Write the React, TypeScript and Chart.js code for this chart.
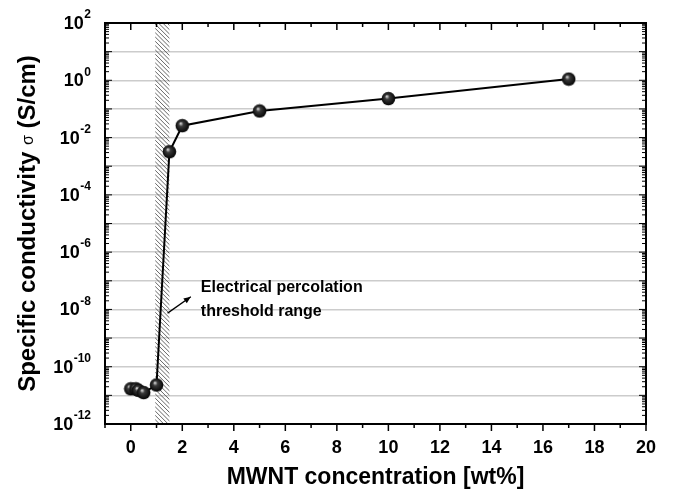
import React, { useEffect, useRef } from "react";
import { Chart, registerables } from "chart.js";
Chart.register(...registerables);

// ---- data ----
const concentration = [0, 0.2, 0.3, 0.5, 1, 1.5, 2, 5, 10, 17];
const conductivity = [1.7e-11, 1.7e-11, 1.5e-11, 1.25e-11, 2.3e-11, 3.2e-3, 2.6e-2, 8.5e-2, 2.3e-1, 1.1];
const xTickValues = [-1, 0, 1, 2, 3, 4, 5, 6, 7, 8, 9, 10, 11, 12, 13, 14, 15, 16, 17, 18, 19, 20];
const yExponents = [-12, -11, -10, -9, -8, -7, -6, -5, -4, -3, -2, -1, 0, 1, 2];
const yLabelExponents = [-12, -10, -8, -6, -4, -2, 0, 2];
const percolationBand = [0.95, 1.5];
const annotationLines = ["Electrical percolation", "threshold range"];
const annotationTextPos = { x: 2.72, y: -7.25 };
const arrowFrom = { x: 1.43, y: -8.13 };
const arrowTo = { x: 2.33, y: -7.56 };
const yTitleParts = ["Specific conductivity ", "\u03C3", " (S/cm)"];
const xTitle = "MWNT concentration [wt%]";

const FONT = "'Liberation Sans', Arial, sans-serif";

function makeSphere(): HTMLCanvasElement {
  const s = document.createElement("canvas");
  s.width = 15;
  s.height = 15;
  const c = s.getContext("2d")!;
  const g = c.createRadialGradient(5.8, 5.2, 0.3, 7.5, 7.5, 7.2);
  g.addColorStop(0, "#d8d8d8");
  g.addColorStop(0.3, "#3a3a3a");
  g.addColorStop(1, "#000000");
  c.beginPath();
  c.arc(7.5, 7.5, 6.8, 0, Math.PI * 2);
  c.fillStyle = g;
  c.fill();
  return s;
}

const decorPlugin = {
  id: "decor",
  beforeDatasetsDraw(chart: any) {
    const { ctx, chartArea } = chart;
    const xs = chart.scales.x;
    const x0 = xs.getPixelForValue(percolationBand[0]);
    const x1 = xs.getPixelForValue(percolationBand[1]);
    const top = chartArea.top;
    const bottom = chartArea.bottom;
    ctx.save();
    ctx.beginPath();
    ctx.rect(x0, top, x1 - x0, bottom - top);
    ctx.clip();
    ctx.strokeStyle = "#555";
    ctx.lineWidth = 0.9;
    const H = bottom - top;
    ctx.beginPath();
    for (let i = x0 - H; i < x1 + 2; i += 4.3) {
      ctx.moveTo(i, top);
      ctx.lineTo(i + H, bottom);
    }
    ctx.stroke();
    ctx.restore();
  },
  afterDraw(chart: any) {
    const { ctx, chartArea } = chart;
    const xs = chart.scales.x;
    const ys = chart.scales.y;
    const { left, right, top, bottom } = chartArea;
    ctx.save();
    ctx.strokeStyle = "#000";
    // y ticks (inside, both sides)
    ctx.lineWidth = 1;
    ctx.beginPath();
    for (let i = 0; i < yExponents.length; i++) {
      const e = yExponents[i];
      const y = ys.getPixelForValue(Math.pow(10, e));
      ctx.moveTo(left, y); ctx.lineTo(left + 7, y);
      ctx.moveTo(right, y); ctx.lineTo(right - 7, y);
      if (e < 2) {
        for (let k = 2; k <= 9; k++) {
          const ym = ys.getPixelForValue(k * Math.pow(10, e));
          ctx.moveTo(left, ym); ctx.lineTo(left + 4, ym);
          ctx.moveTo(right, ym); ctx.lineTo(right - 4, ym);
        }
      }
    }
    ctx.stroke();
    // x ticks: top inside, bottom outside
    ctx.lineWidth = 1.5;
    ctx.beginPath();
    for (const v of xTickValues) {
      const x = xs.getPixelForValue(v);
      const len = v % 2 === 0 ? 7 : 4;
      ctx.moveTo(x, top); ctx.lineTo(x, top + len);
      ctx.moveTo(x, bottom); ctx.lineTo(x, bottom + len);
    }
    ctx.stroke();
    // frame
    ctx.lineWidth = 2;
    ctx.strokeRect(left, top, right - left, bottom - top);

    // y tick labels: 10 with superscript exponent
    ctx.fillStyle = "#000";
    ctx.textBaseline = "middle";
    for (const e of yLabelExponents) {
      const y = ys.getPixelForValue(Math.pow(10, e));
      const exp = String(e);
      ctx.font = `bold 12px ${FONT}`;
      const ew = ctx.measureText(exp).width;
      ctx.textAlign = "right";
      const xr = left - 14;
      ctx.fillText(exp, xr, y - 8);
      ctx.font = `bold 18px ${FONT}`;
      ctx.fillText("10", xr - ew - 0.5, y + 1);
    }

    // y title with mixed fonts
    const fBig = `bold 24px ${FONT}`;
    const fSig = `16px ${FONT}`;
    const widths = yTitleParts.map((p, i) => {
      ctx.font = i === 1 ? fSig : fBig;
      return ctx.measureText(p).width;
    });
    const total = widths.reduce((a, b) => a + b, 0);
    const cy = (top + bottom) / 2;
    ctx.translate(28, cy);
    ctx.rotate(-Math.PI / 2);
    ctx.textAlign = "left";
    ctx.textBaseline = "middle";
    let cx = -total / 2;
    yTitleParts.forEach((p, i) => {
      ctx.font = i === 1 ? fSig : fBig;
      ctx.fillText(p, cx, i === 1 ? 1 : 0);
      cx += widths[i];
    });
    ctx.setTransform(1, 0, 0, 1, 0, 0);

    // annotation arrow
    const ax0 = xs.getPixelForValue(arrowFrom.x);
    const ay0 = ys.getPixelForValue(Math.pow(10, arrowFrom.y));
    const ax1 = xs.getPixelForValue(arrowTo.x);
    const ay1 = ys.getPixelForValue(Math.pow(10, arrowTo.y));
    ctx.lineWidth = 1.3;
    ctx.beginPath();
    ctx.moveTo(ax0, ay0);
    ctx.lineTo(ax1, ay1);
    ctx.stroke();
    const ang = Math.atan2(ay1 - ay0, ax1 - ax0);
    const hl = 7, hw = 3;
    ctx.beginPath();
    ctx.moveTo(ax1, ay1);
    ctx.lineTo(ax1 - hl * Math.cos(ang) + hw * Math.sin(ang), ay1 - hl * Math.sin(ang) - hw * Math.cos(ang));
    ctx.lineTo(ax1 - hl * Math.cos(ang) - hw * Math.sin(ang), ay1 - hl * Math.sin(ang) + hw * Math.cos(ang));
    ctx.closePath();
    ctx.fill();

    // annotation text
    const tx = xs.getPixelForValue(annotationTextPos.x);
    const ty = ys.getPixelForValue(Math.pow(10, annotationTextPos.y));
    ctx.font = `bold 16px ${FONT}`;
    ctx.textAlign = "left";
    ctx.textBaseline = "middle";
    annotationLines.forEach((line, i) => ctx.fillText(line, tx, ty + i * 24));
    ctx.restore();
  },
};

export default function App() {
  const ref = useRef<HTMLCanvasElement>(null);
  useEffect(() => {
    document.body.style.margin = "0";
    const sphere = makeSphere();
    const chart = new Chart(ref.current!, {
      type: "line",
      data: {
        datasets: [
          {
            data: concentration.map((x, i) => ({ x, y: conductivity[i] })),
            borderColor: "#000",
            borderWidth: 2,
            pointStyle: sphere as any,
            pointRadius: 7,
            fill: false,
            tension: 0,
          },
        ],
      },
      options: {
        animation: false,
        responsive: false,
        layout: { padding: { top: 23, right: 27, left: 0, bottom: 0 } },
        plugins: { legend: { display: false }, tooltip: { enabled: false } },
        scales: {
          x: {
            type: "linear",
            min: -1,
            max: 20,
            afterBuildTicks: (s: any) => {
              s.ticks = xTickValues.map((v) => ({ value: v }));
            },
            afterFit: (s: any) => {
              s.height = 75;
            },
            grid: { display: false, drawTicks: false },
            border: { display: false },
            ticks: {
              autoSkip: false,
              maxRotation: 0,
              padding: 13,
              color: "#000",
              font: { family: FONT, size: 18, weight: "bold" },
              callback: (v: any) => (v >= 0 && v % 2 === 0 ? String(v) : ""),
            },
            title: {
              display: true,
              text: xTitle,
              color: "#000",
              font: { family: FONT, size: 23, weight: "bold" },
              padding: { top: 0, bottom: 8 },
            },
          },
          y: {
            type: "logarithmic",
            min: 1e-12,
            max: 1e2,
            afterBuildTicks: (s: any) => {
              s.ticks = yExponents.map((e) => ({ value: Math.pow(10, e) }));
            },
            afterFit: (s: any) => {
              s.width = 105;
            },
            grid: {
              drawTicks: false,
              color: (c: any) => {
                const e = Math.round(Math.log10(c.tick.value));
                return e === 2 || e === -12 ? "rgba(0,0,0,0)" : "#cccccc";
              },
              lineWidth: 1.5,
            },
            border: { display: false },
            ticks: { display: false },
            title: { display: false },
          },
        },
      },
      plugins: [decorPlugin],
    });
    return () => chart.destroy();
  }, []);
  return <canvas ref={ref} width={673} height={499} />;
}
